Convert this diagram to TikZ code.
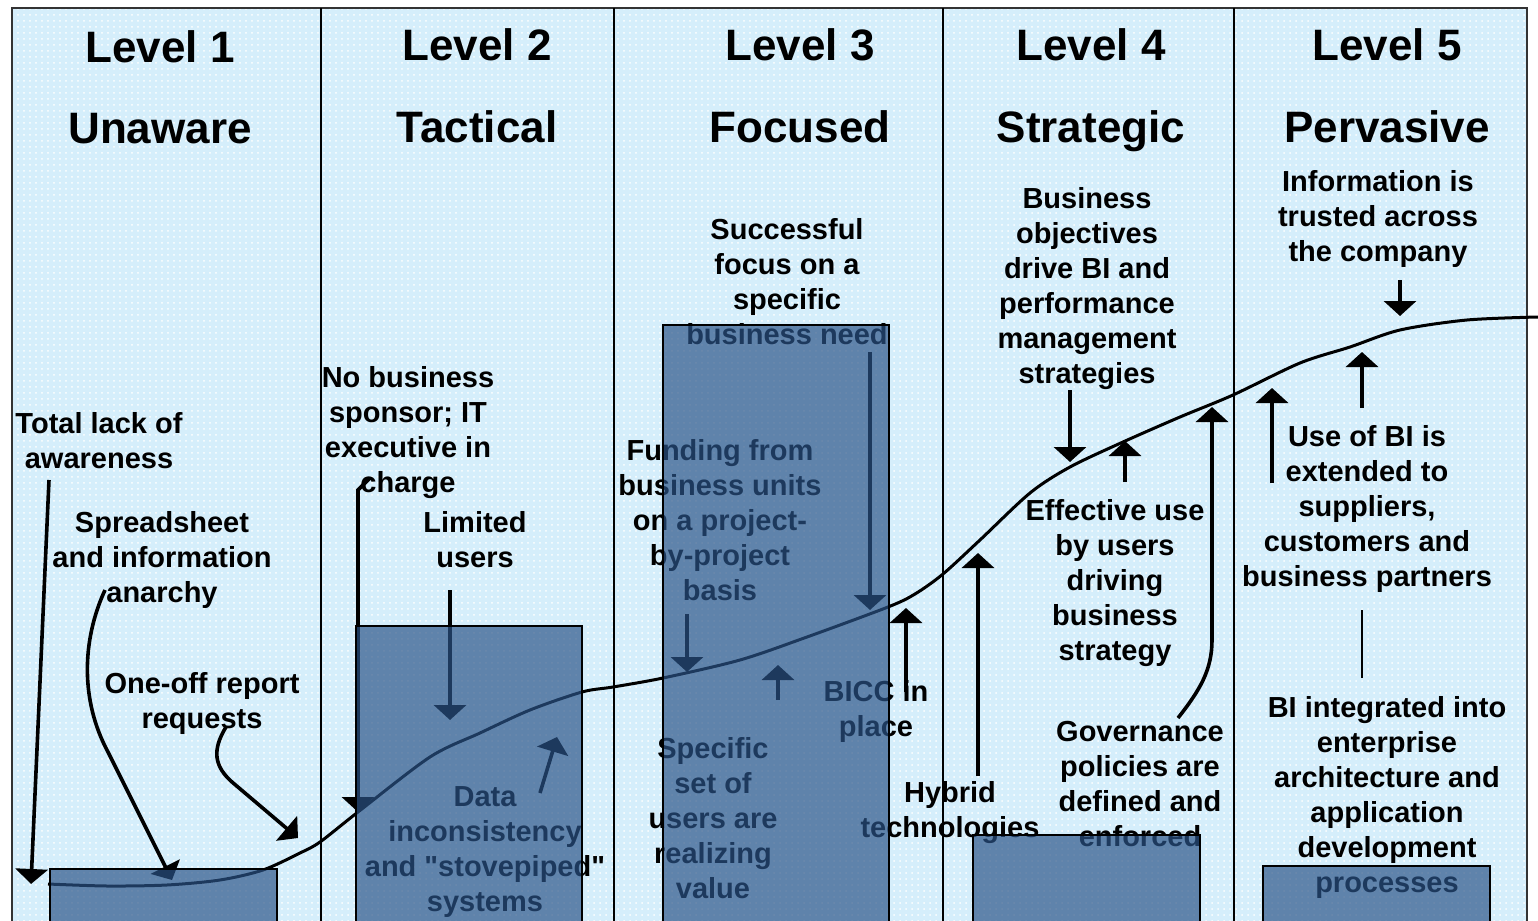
\documentclass[tikz,border=0pt]{standalone}
\usepackage{fontspec}
\setmainfont{Liberation Sans}
\usetikzlibrary{arrows.meta,patterns}
\definecolor{skyback}{RGB}{213,238,251}
\definecolor{barblue}{RGB}{43,84,136}
\tikzset{
  title/.style={font=\fontsize{22}{26}\selectfont\bfseries, inner sep=0pt, anchor=base},
  note/.style={font=\fontsize{14.5}{17.5}\selectfont\bfseries, align=center, inner sep=0pt},
  arr/.style={line width=1.8pt, -{Triangle[width=16pt,length=7.5pt]}},
  bar/.style={draw=black, line width=1pt, fill=barblue, fill opacity=0.69}
}
\begin{document}
\begin{tikzpicture}[x=0.5pt,y=-0.5pt]
  \useasboundingbox (0,0) rectangle (1538,921);
  \fill[skyback] (12,8) rectangle (1527,921);
  \fill[pattern=dots, pattern color=white] (12,8) rectangle (1527,921);
  \draw[line width=1pt, black!80] (12,8) rectangle (1527,940);
  \foreach \x in {321,614,943,1234}
    \draw[line width=1pt] (\x,8) -- (\x,921);

  \node[title] (lvl1) at (160,62) {Level 1};
  \node[title] (lvl2) at (477,61) {Level 2};
  \node[title] (lvl3) at (800,61) {Level 3};
  \node[title] (lvl4) at (1091,61) {Level 4};
  \node[title] (lvl5) at (1387,61) {Level 5};
  \node[title] (unaware) at (160,143) {Unaware};
  \node[title] (tactical) at (477,142) {Tactical};
  \node[title] (focused) at (800,142) {Focused};
  \node[title] (strategic) at (1091,142) {Strategic};
  \node[title] (pervasive) at (1387,142) {Pervasive};

  \node[note] (lack) at (99,441) {Total lack of\\awareness};
  \node[note] (anarchy) at (162,560) {Spreadsheet\\and information\\anarchy};
  \node[note] (oneoff) at (202,703) {One-off report\\requests};
  \node[note] (sponsor) at (408,433) {No business\\sponsor; IT\\executive in\\charge};
  \node[note] (limited) at (475,540) {Limited\\users};
  \node[note] (datainc) at (485,852) {Data\\inconsistency\\and \textquotedbl stovepiped\textquotedbl\\systems};
  \node[note] (success) at (787,282) {Successful\\focus on a\\specific\\business need};
  \node[note] (funding) at (720,520) {Funding from\\business units\\on a project-\\by-project\\basis};
  \node[note] (specific) at (713,818) {Specific\\set of\\users are\\realizing\\value};
  \node[note] (bicc) at (876,711) {BICC in\\place};
  \node[note] (hybrid) at (950,813) {Hybrid\\technologies};
  \node[note] (objectives) at (1087,289) {Business\\objectives\\drive BI and\\performance\\management\\strategies};
  \node[note] (effective) at (1115,583) {Effective use\\by users\\driving\\business\\strategy};
  \node[note] (governance) at (1140,784) {Governance\\policies are\\defined and\\enforced};
  \node[note] (trusted) at (1378,219) {Information is\\trusted across\\the company};
  \node[note] (extended) at (1367,509) {Use of BI is\\extended to\\suppliers,\\customers and\\business partners};
  \node[note] (integrated) at (1387,797) {BI integrated into\\enterprise\\architecture and\\application\\development\\processes};

  \draw[line width=1.5pt] plot[smooth, tension=0.5] coordinates {
    (48,884) (107,886) (167,885) (220,880) (263,870) (300,853) (320,842)
    (358,812) (430,757) (480,733) (530,710) (582,692) (613,687) (663,678)
    (740,660) (807,637) (888,607) (915,594) (943,574) (980,540) (1030,493)
    (1070,467) (1123,442) (1180,417) (1233,395) (1300,363) (1350,347)
    (1400,330) (1467,320) (1538,317)};

  \coordinate (lack-t) at (49,480);      \coordinate (lack-h) at (31,884);
  \coordinate (anarchy-t) at (105,590);  \coordinate (anarchy-h) at (172,880);
  \coordinate (oneoff-t) at (226,727);   \coordinate (oneoff-h) at (298,838);
  \coordinate (sponsor-t) at (370,478);  \coordinate (sponsor-h) at (358,812);
  \coordinate (limited-t) at (450,590);  \coordinate (limited-h) at (450,720);
  \coordinate (datainc-t) at (540,793);  \coordinate (datainc-h) at (557,737);
  \coordinate (success-t) at (870,352);  \coordinate (success-h) at (870,610);
  \coordinate (funding-t) at (687,614);  \coordinate (funding-h) at (687,672);
  \coordinate (specific-t) at (778,700); \coordinate (specific-h) at (778,665);
  \coordinate (bicc-t) at (906,692);     \coordinate (bicc-h) at (906,608);
  \coordinate (hybrid-t) at (978,776);   \coordinate (hybrid-h) at (978,553);
  \coordinate (objectives-t) at (1070,390); \coordinate (objectives-h) at (1070,462);
  \coordinate (effective-t) at (1125,482);  \coordinate (effective-h) at (1125,441);
  \coordinate (governance-t) at (1178,718); \coordinate (governance-h) at (1212,407);
  \coordinate (ext1-t) at (1272,483);    \coordinate (ext1-h) at (1272,388);
  \coordinate (ext2-t) at (1362,408);    \coordinate (ext2-h) at (1362,352);
  \coordinate (trusted-t) at (1400,280); \coordinate (trusted-h) at (1400,316);
  \coordinate (integrated-t) at (1362,610); \coordinate (integrated-h) at (1362,678);

  \begin{scope}[arr]
    \draw (lack-t) to (lack-h);
    \draw (anarchy-t) .. controls (82,640) and (80,700) .. (108,752) -- (anarchy-h);
    \draw (oneoff-t) .. controls (212,750) and (214,766) .. (232,782) -- (oneoff-h);
    \draw (sponsor-t) -- (358,490) -- (sponsor-h);
    \draw (limited-t) to (limited-h);
    \draw (datainc-t) to (datainc-h);
    \draw (success-t) to (success-h);
    \draw (funding-t) to (funding-h);
    \draw (specific-t) to (specific-h);
    \draw (bicc-t) to (bicc-h);
    \draw (hybrid-t) to (hybrid-h);
    \draw (objectives-t) to (objectives-h);
    \draw (effective-t) to (effective-h);
    \draw (governance-t) .. controls (1200,690) and (1212,670) .. (1212,640) -- (governance-h);
    \draw (ext1-t) to (ext1-h);
    \draw (ext2-t) to (ext2-h);
    \draw (trusted-t) to (trusted-h);
  \end{scope}
  \draw[line width=1pt] (integrated-t) -- (integrated-h);

  \draw[bar] (50,869) rectangle (277,935);
  \draw[bar] (356,626) rectangle (582,935);
  \draw[bar] (663,325) rectangle (889,935);
  \draw[bar] (973,835) rectangle (1200,935);
  \draw[bar] (1263,866) rectangle (1490,935);
\end{tikzpicture}
\end{document}
